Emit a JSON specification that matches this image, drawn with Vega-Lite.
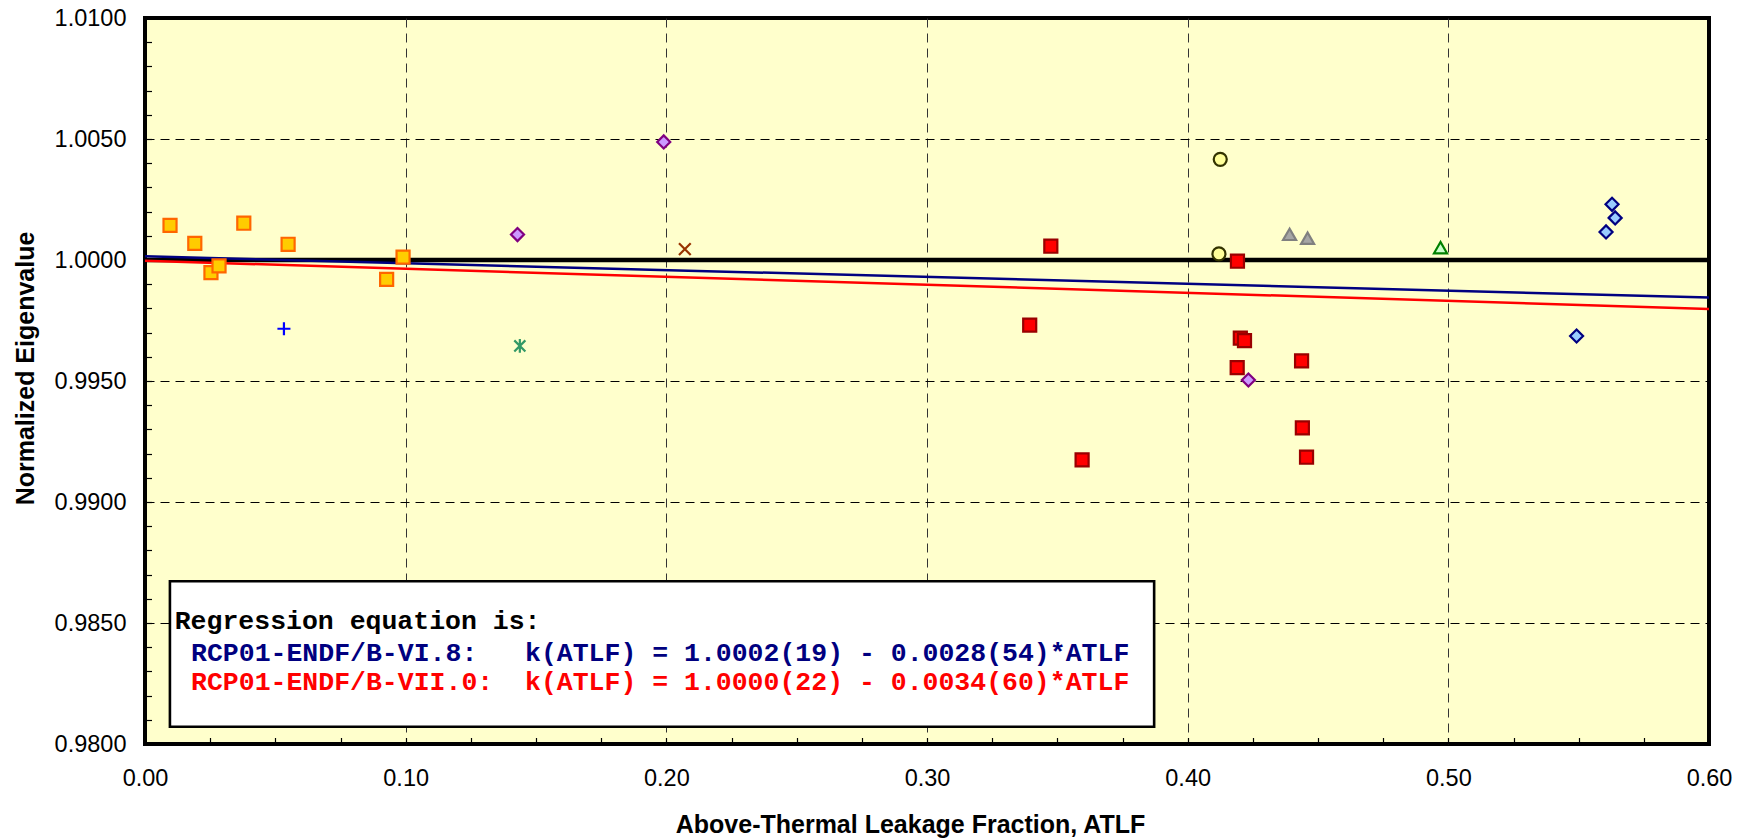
{
  "$schema": "https://vega.github.io/schema/vega-lite/v6.json",
  "width": 1564,
  "height": 726,
  "autosize": {"type": "none"},
  "padding": {"left": 145, "top": 18, "right": 38, "bottom": 94},
  "background": "white",
  "config": {
    "view": {"stroke": "black", "strokeWidth": 4, "fill": "#FFFFCC"},
    "axis": {
      "labelFont": "Liberation Sans",
      "labelFontSize": 23.5,
      "labelColor": "black",
      "titleFont": "Liberation Sans",
      "titleFontWeight": "bold",
      "titleFontSize": 25,
      "titleColor": "black",
      "domain": false,
      "tickColor": "black",
      "tickWidth": 1.2,
      "tickSize": -6.5,
      "labelOverlap": false,
      "labelFlush": false,
      "labelBound": false,
      "gridColor": "black",
      "gridWidth": 1,
      "gridDash": [9, 6]
    }
  },
  "encoding": {
    "x": {
      "field": "x",
      "type": "quantitative",
      "scale": {"domain": [0, 0.6], "nice": false, "zero": false},
      "axis": {
        "title": "Above-Thermal Leakage Fraction, ATLF",
        "values": [0, 0.025, 0.05, 0.075, 0.1, 0.125, 0.15, 0.175, 0.2, 0.225, 0.25, 0.275, 0.3, 0.325, 0.35, 0.375, 0.4, 0.425, 0.45, 0.475, 0.5, 0.525, 0.55, 0.575, 0.6],
        "labelExpr": "round(datum.value*1000)%100===0 ? format(datum.value,'.2f') : ''",
        "labelPadding": 29,
        "labelBaseline": "top",
        "grid": true,
        "gridColor": "#333333",
        "gridOpacity": {"condition": {"test": "round(datum.value*1000)%100===0 && datum.value>0.01 && datum.value<0.59", "value": 1}, "value": 0},
        "titleX": 765,
        "titleY": 88,
        "titleAlign": "center",
        "titleBaseline": "alphabetic"
      }
    },
    "y": {
      "field": "y",
      "type": "quantitative",
      "scale": {"domain": [0.98, 1.01], "nice": false, "zero": false},
      "axis": {
        "title": "Normalized Eigenvalue",
        "values": [0.98, 0.981, 0.982, 0.983, 0.984, 0.985, 0.986, 0.987, 0.988, 0.989, 0.99, 0.991, 0.992, 0.993, 0.994, 0.995, 0.996, 0.997, 0.998, 0.999, 1, 1.001, 1.002, 1.003, 1.004, 1.005, 1.006, 1.007, 1.008, 1.009, 1.01],
        "labelExpr": "round(datum.value*1000)%5===0 ? format(datum.value,'.4f') : ''",
        "labelPadding": 25.5,
        "grid": true,
        "gridOpacity": {"condition": {"test": "round(datum.value*1000)%5===0 && round(datum.value*1000)!==1000 && round(datum.value*1000)!==980 && round(datum.value*1000)!==1010", "value": 1}, "value": 0},
        "titleX": -112,
        "titleY": 350,
        "titleAngle": 270,
        "titleAlign": "center",
        "titleBaseline": "alphabetic"
      }
    }
  },
  "layer": [
    {
      "data": {"values": [{"x": 0, "y": 1}, {"x": 0.6, "y": 1}]},
      "mark": {"type": "line", "color": "black", "strokeWidth": 4.5}
    },
    {
      "data": {"values": [
        {"fit": "RCP01-ENDF/B-VI.8", "x": 0, "y": 1.00015},
        {"fit": "RCP01-ENDF/B-VI.8", "x": 0.6, "y": 0.99845},
        {"fit": "RCP01-ENDF/B-VII.0", "x": 0, "y": 0.99997},
        {"fit": "RCP01-ENDF/B-VII.0", "x": 0.6, "y": 0.99798}
      ]},
      "mark": {"type": "line", "strokeWidth": 2.5},
      "encoding": {
        "color": {"field": "fit", "type": "nominal", "scale": {"domain": ["RCP01-ENDF/B-VI.8", "RCP01-ENDF/B-VII.0"], "range": ["#000080", "#FF0000"]}, "legend": null}
      }
    },
    {
      "data": {"values": [
        {"series": "s1", "x": 0.0096, "y": 1.00143},
        {"series": "s1", "x": 0.0191, "y": 1.00069},
        {"series": "s1", "x": 0.0253, "y": 0.99948},
        {"series": "s1", "x": 0.0284, "y": 0.99976},
        {"series": "s1", "x": 0.0379, "y": 1.00152},
        {"series": "s1", "x": 0.0549, "y": 1.00065},
        {"series": "s1", "x": 0.0927, "y": 0.9992},
        {"series": "s1", "x": 0.099, "y": 1.00012},
        {"series": "s2", "x": 0.0533, "y": 0.99716},
        {"series": "s3", "x": 0.1429, "y": 1.00105},
        {"series": "s3", "x": 0.199, "y": 1.00488},
        {"series": "s3", "x": 0.4233, "y": 0.99504},
        {"series": "s4", "x": 0.1438, "y": 0.99645},
        {"series": "s5", "x": 0.2071, "y": 1.00045},
        {"series": "s6", "x": 0.4125, "y": 1.00416},
        {"series": "s6", "x": 0.412, "y": 1.00025},
        {"series": "s7", "x": 0.3475, "y": 1.00057},
        {"series": "s7", "x": 0.3394, "y": 0.99731},
        {"series": "s7", "x": 0.3595, "y": 0.99174},
        {"series": "s7", "x": 0.4191, "y": 0.99995},
        {"series": "s7", "x": 0.4202, "y": 0.99677},
        {"series": "s7", "x": 0.4218, "y": 0.99667},
        {"series": "s7", "x": 0.419, "y": 0.99555},
        {"series": "s7", "x": 0.4437, "y": 0.99583},
        {"series": "s7", "x": 0.444, "y": 0.99306},
        {"series": "s7", "x": 0.4456, "y": 0.99185},
        {"series": "s8", "x": 0.4391, "y": 1.00106},
        {"series": "s8", "x": 0.446, "y": 1.0009},
        {"series": "s9", "x": 0.497, "y": 1.00051},
        {"series": "s10", "x": 0.5628, "y": 1.0023},
        {"series": "s10", "x": 0.564, "y": 1.00174},
        {"series": "s10", "x": 0.5605, "y": 1.00116},
        {"series": "s10", "x": 0.5492, "y": 0.99686}
      ]},
      "mark": {"type": "point", "filled": true, "opacity": 1, "size": 170, "strokeWidth": 2.2},
      "encoding": {
        "shape": {"field": "series", "type": "nominal", "legend": null, "scale": {
          "domain": ["s1", "s2", "s3", "s4", "s5", "s6", "s7", "s8", "s9", "s10"],
          "range": ["square", "M-1,0L1,0M0,-1L0,1", "diamond", "M-0.85,-0.85L0.85,0.85M0.85,-0.85L-0.85,0.85M0,-1.05L0,1.05", "M-0.9,-0.9L0.9,0.9M0.9,-0.9L-0.9,0.9", "circle", "square", "triangle-up", "triangle-up", "diamond"]}},
        "fill": {"field": "series", "type": "nominal", "legend": null, "scale": {
          "domain": ["s1", "s2", "s3", "s4", "s5", "s6", "s7", "s8", "s9", "s10"],
          "range": ["#FFCC00", "transparent", "#CC99FF", "transparent", "transparent", "#FFFF99", "#FF0000", "#A6A6A6", "#CCFFCC", "#99CCFF"]}},
        "stroke": {"field": "series", "type": "nominal", "legend": null, "scale": {
          "domain": ["s1", "s2", "s3", "s4", "s5", "s6", "s7", "s8", "s9", "s10"],
          "range": ["#FF6600", "#0000FF", "#800080", "#339966", "#993300", "#333300", "#990000", "#808080", "#008000", "#000080"]}}
      }
    },
    {
      "data": {"values": [{"x": 0.00956, "x2": 0.38714, "y": 0.986727, "y2": 0.980715}]},
      "mark": {"type": "rect", "fill": "white", "stroke": "black", "strokeWidth": 2.6},
      "encoding": {
        "x2": {"field": "x2"},
        "y2": {"field": "y2"}
      }
    },
    {
      "data": {"values": [{"x": 0.0114, "y": 0.984752, "label": "Regression equation is:"}]},
      "mark": {"type": "text", "align": "left", "baseline": "alphabetic", "font": "Liberation Mono", "fontWeight": "bold", "fontSize": 26.5, "color": "black"},
      "encoding": {"text": {"field": "label"}}
    },
    {
      "data": {"values": [{"x": 0.01766, "y": 0.98343, "label": "RCP01-ENDF/B-VI.8:\u00a0\u00a0\u00a0k(ATLF) = 1.0002(19) - 0.0028(54)*ATLF"}]},
      "mark": {"type": "text", "align": "left", "baseline": "alphabetic", "font": "Liberation Mono", "fontWeight": "bold", "fontSize": 26.5, "color": "#000080"},
      "encoding": {"text": {"field": "label"}}
    },
    {
      "data": {"values": [{"x": 0.01766, "y": 0.982231, "label": "RCP01-ENDF/B-VII.0:\u00a0\u00a0k(ATLF) = 1.0000(22) - 0.0034(60)*ATLF"}]},
      "mark": {"type": "text", "align": "left", "baseline": "alphabetic", "font": "Liberation Mono", "fontWeight": "bold", "fontSize": 26.5, "color": "#FF0000"},
      "encoding": {"text": {"field": "label"}}
    }
  ]
}
